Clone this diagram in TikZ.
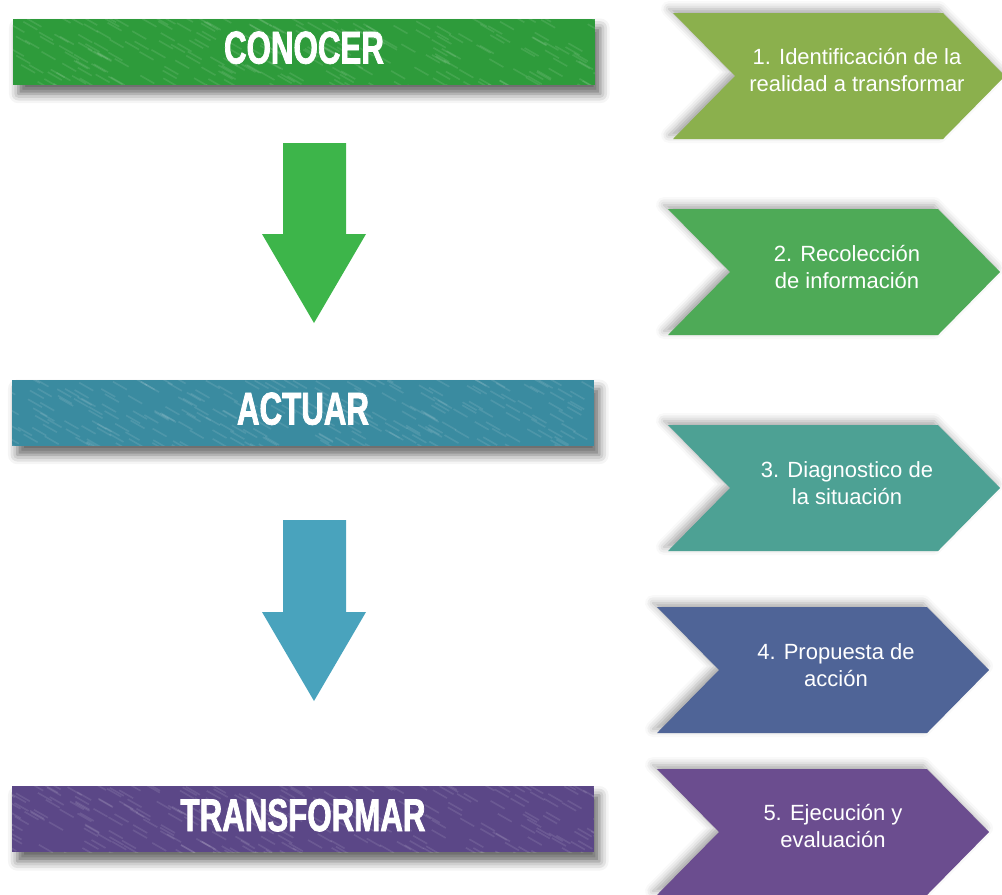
\documentclass[tikz,border=0pt]{standalone}
\usepackage{fontspec}
\setmainfont{Liberation Sans}
\newfontfamily\barfont[FakeStretch=0.68,FakeBold=1.6]{Liberation Sans}
\usetikzlibrary{calc,shadows.blur}

\definecolor{barA}{HTML}{2E9B3B}
\definecolor{barB}{HTML}{3A8BA0}
\definecolor{barC}{HTML}{5B4787}
\definecolor{arrowA}{HTML}{3DB54A}
\definecolor{arrowB}{HTML}{49A3BD}
\definecolor{chevA}{HTML}{8BB04D}
\definecolor{chevB}{HTML}{4EAA57}
\definecolor{chevC}{HTML}{4DA194}
\definecolor{chevD}{HTML}{4F6497}
\definecolor{chevE}{HTML}{6B4D8F}

\tikzset{
  bar/.style={rectangle, fill=#1, minimum width=582pt, minimum height=66pt,
    inner sep=0pt, text=white, text depth=8pt,
    font=\barfont\bfseries\fontsize{46}{46}\selectfont,
    blur shadow={shadow xshift=4pt, shadow yshift=-7pt, shadow opacity=60, shadow blur radius=7pt},
    path picture={
      \foreach \i in {1,...,260}
        \draw[white, line width=1.2pt, opacity=0.1]
          ($(path picture bounding box.north west)+(rnd*610-20, rnd*75-5)$) -- ++(14,8);
    }},
  chev/.style={fill=#1, blur shadow={shadow xshift=-3pt, shadow yshift=3pt, shadow opacity=35, shadow blur radius=6pt}},
  steptext/.style={text=white, align=center, font=\fontsize{22}{27}\selectfont},
}

\begin{document}
\begin{tikzpicture}[x=1pt, y=-1pt, scale=0.75, transform shape]
\useasboundingbox (0,0) rectangle (1002,894);
\pgfmathsetseed{7}

% left column
\node[bar=barA] (conocer) at (304,51.5) {CONOCER};
\node[bar=barB] (actuar) at (303,412.5) {ACTUAR};
\node[bar=barC] (transformar) at (303,819) {TRANSFORMAR};

\fill[arrowA] (283,143) -- (346,143) -- (346,234) -- (366,234) -- (314,323) -- (262,234) -- (283,234) -- cycle;
\fill[arrowB] (283,520) -- (346,520) -- (346,612) -- (366,612) -- (314,701) -- (262,612) -- (283,612) -- cycle;

% right column: steps
\foreach \n/\x/\y/\c/\tx/\ty/\t in {
  p1/673/13/chevA/857/70/{1. Identificación de la\\realidad a transformar},
  p2/668/209/chevB/847/267/{2. Recolección\\de información},
  p3/668/425/chevC/847/483/{3. Diagnostico de\\la situación},
  p4/657/607/chevD/836/665/{4. Propuesta de\\acción},
  p5/657/769/chevE/833/826/{5. Ejecución y\\evaluación}}
{
  \fill[chev=\c] (\x,\y) -- ++(270,0) -- ++(62,63) -- ++(-62,63) -- ++(-270,0) -- ++(62,-63) -- cycle;
  \node[steptext] (\n) at (\tx,\ty) {\t};
}
\end{tikzpicture}
\end{document}
